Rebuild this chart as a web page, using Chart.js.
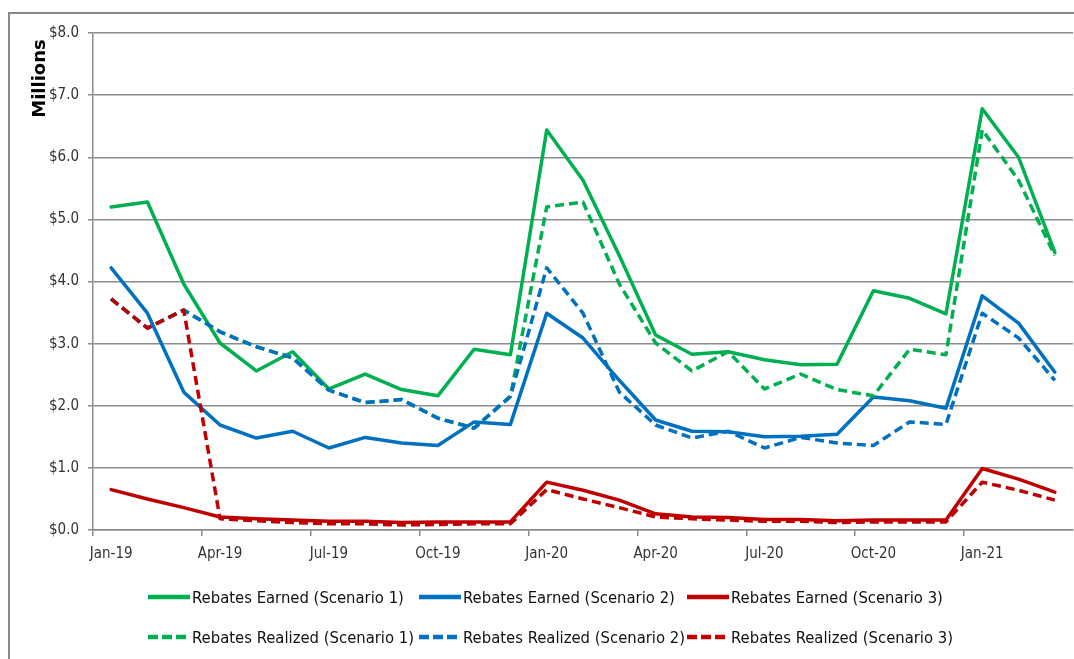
<!DOCTYPE html>
<html>
<head>
<meta charset="utf-8">
<script src="https://cdn.jsdelivr.net/npm/chart.js@4/dist/chart.umd.min.js"></script>
<style>
  html, body { margin: 0; padding: 0; background: #fff; overflow: hidden; width: 1074px; height: 659px; }
  #frame { position: absolute; left: 8px; top: 12px; width: 1200px; height: 800px; border: 2px solid #8a8a8a; box-sizing: border-box; }
  #c { position: absolute; left: 0; top: 0; }
  #legend { position: absolute; left: 148px; top: 584px; display: grid; grid-template-columns: 271px 268px auto; row-gap: 14px;
            font-family: "Liberation Sans Narrow", "DejaVu Sans Condensed", "Arial Narrow", sans-serif; font-size: 16.5px; color: #111; }
  .item { display: flex; align-items: center; height: 26px; white-space: nowrap; }
  .item svg { margin-right: 2px; flex: none; }
</style>
</head>
<body>
<div id="frame"></div>
<canvas id="c" width="1074" height="659"></canvas>
<div id="legend"></div>
<script>
const months = ["Jan-19","Feb-19","Mar-19","Apr-19","May-19","Jun-19","Jul-19","Aug-19","Sep-19","Oct-19","Nov-19","Dec-19",
                "Jan-20","Feb-20","Mar-20","Apr-20","May-20","Jun-20","Jul-20","Aug-20","Sep-20","Oct-20","Nov-20","Dec-20",
                "Jan-21","Feb-21","Mar-21"];
const shownTickLabels = ["Jan-19","Apr-19","Jul-19","Oct-19","Jan-20","Apr-20","Jul-20","Oct-20","Jan-21"];
const yTicks = [0,1,2,3,4,5,6,7,8];

const earnedS1   = [5.20,5.28,3.96,3.01,2.56,2.87,2.27,2.51,2.26,2.16,2.91,2.82,6.44,5.63,4.42,3.14,2.83,2.87,2.74,2.66,2.67,3.85,3.73,3.48,6.78,6.00,4.47];
const earnedS2   = [4.22,3.49,2.22,1.69,1.48,1.59,1.32,1.49,1.40,1.36,1.74,1.70,3.49,3.09,2.41,1.77,1.59,1.58,1.50,1.51,1.54,2.14,2.08,1.96,3.77,3.33,2.54];
const earnedS3   = [0.65,0.50,0.36,0.21,0.18,0.16,0.14,0.14,0.12,0.13,0.13,0.13,0.77,0.64,0.48,0.26,0.21,0.20,0.17,0.17,0.15,0.16,0.16,0.16,0.99,0.82,0.61];
const realizedS1 = [3.72,3.25,3.54,3.19,2.95,2.77,2.25,2.05,2.10,1.80,1.64,2.15,5.20,5.28,3.96,3.01,2.56,2.87,2.27,2.51,2.26,2.16,2.91,2.82,6.44,5.63,4.42];
const realizedS2 = [3.72,3.25,3.54,3.19,2.95,2.77,2.25,2.05,2.10,1.80,1.64,2.15,4.22,3.49,2.22,1.69,1.48,1.59,1.32,1.49,1.40,1.36,1.74,1.70,3.49,3.09,2.41];
const realizedS3 = [3.72,3.25,3.54,0.18,0.15,0.12,0.10,0.10,0.08,0.09,0.10,0.10,0.65,0.50,0.36,0.21,0.18,0.16,0.14,0.14,0.12,0.13,0.13,0.13,0.77,0.64,0.48];

const seriesNames = ["Rebates Earned (Scenario 1)","Rebates Earned (Scenario 2)","Rebates Earned (Scenario 3)",
                     "Rebates Realized (Scenario 1)","Rebates Realized (Scenario 2)","Rebates Realized (Scenario 3)"];
const GREEN = "#00B050", BLUE = "#0070C0", RED = "#C00000";
const colors = [GREEN, BLUE, RED, GREEN, BLUE, RED];
const values = [earnedS1, earnedS2, earnedS3, realizedS1, realizedS2, realizedS3];
const DASH = [9,5];

const datasets = values.map((v, i) => ({
  label: seriesNames[i],
  data: v,
  borderColor: colors[i],
  backgroundColor: colors[i],
  borderWidth: 3.5,
  borderDash: i >= 3 ? DASH : [],
  borderCapStyle: i >= 3 ? 'butt' : 'round',
  borderJoinStyle: 'round',
  pointRadius: 0,
  tension: 0,
  fill: false,
  order: 5 - i
}));

const tickFont = { family: '"Liberation Sans Narrow", "DejaVu Sans Condensed", "Arial Narrow", sans-serif', size: 15 };
const GRID = '#8c8c8c';

new Chart(document.getElementById('c'), {
  type: 'line',
  data: { labels: months, datasets },
  options: {
    responsive: false,
    devicePixelRatio: 1,
    animation: false,
    layout: { padding: { left: 0, right: 1, top: 33, bottom: 89 } },
    plugins: { legend: { display: false }, tooltip: { enabled: false } },
    scales: {
      x: {
        type: 'category',
        offset: true,
        grid: {
          offset: true,
          drawOnChartArea: false,
          drawTicks: true,
          tickLength: 6,
          lineWidth: 1.5,
          color: (ctx) => (ctx.index % 3 === 0 ? GRID : 'rgba(0,0,0,0)')
        },
        border: { display: true, color: GRID, width: 1.5 },
        ticks: {
          autoSkip: false,
          maxRotation: 0,
          minRotation: 0,
          padding: 9,
          color: '#333',
          font: tickFont,
          callback: function(val, idx) {
            const l = months[idx];
            return shownTickLabels.includes(l) ? l : '';
          }
        },
        afterFit: (s) => { s.height = 40; }
      },
      y: {
        min: 0, max: 8,
        afterBuildTicks: (s) => { s.ticks = yTicks.map(v => ({ value: v })); },
        grid: { color: GRID, lineWidth: 1.5, tickLength: 5, drawTicks: true },
        border: { display: true, color: GRID, width: 1.5 },
        ticks: {
          padding: 9,
          color: '#333',
          font: tickFont,
          callback: (v) => '$' + Number(v).toFixed(1)
        },
        title: {
          display: true,
          text: 'Millions ',
          align: 'end',
          color: '#000',
          font: { family: '"DejaVu Sans", sans-serif', size: 18, weight: 'bold' },
          padding: { top: 30, bottom: 0 }
        },
        afterFit: (s) => { s.width = 93; }
      }
    }
  }
});

// HTML legend (3 columns x 2 rows, like the original)
const legend = document.getElementById('legend');
datasets.forEach((d, i) => {
  const item = document.createElement('div');
  item.className = 'item';
  const dash = i >= 3 ? 'stroke-dasharray="10,4"' : '';
  item.innerHTML = '<svg width="42" height="8"><line x1="0" y1="4" x2="42" y2="4" stroke="' + d.borderColor +
                   '" stroke-width="4.5" ' + dash + '/></svg>';
  const span = document.createElement('span');
  span.textContent = d.label;
  item.appendChild(span);
  legend.appendChild(item);
});
</script>
</body>
</html>
